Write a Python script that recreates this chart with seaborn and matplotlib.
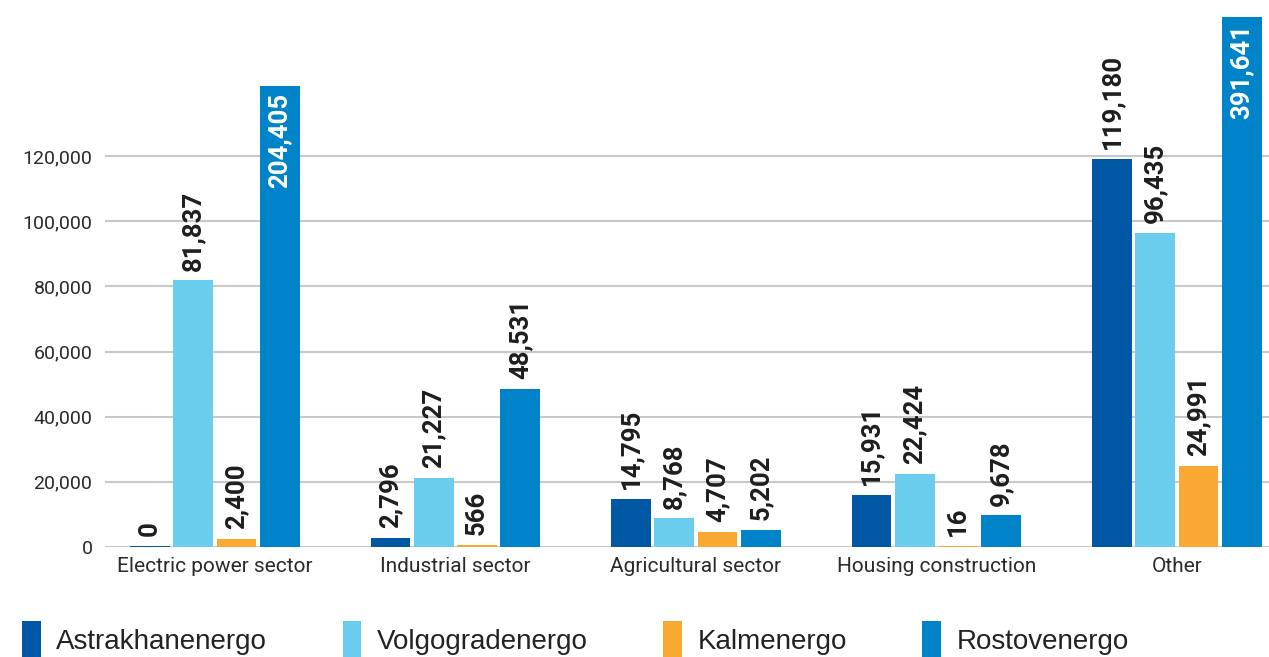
import numpy as np
import pandas as pd
import matplotlib
matplotlib.use("Agg")
import matplotlib.pyplot as plt
import seaborn as sns
from matplotlib.patches import Patch

# ---------------- data ----------------
categories = ["Electric power sector", "Industrial sector", "Agricultural sector",
              "Housing construction", "Other"]
series = ["Astrakhanenergo", "Volgogradenergo", "Kalmenergo", "Rostovenergo"]

astrakhanenergo = [0, 2796, 14795, 15931, 119180]
volgogradenergo = [81837, 21227, 8768, 22424, 96435]
kalmenergo = [2400, 566, 4707, 16, 24991]
rostovenergo = [204405, 48531, 5202, 9678, 391641]

# bars that the original chart draws truncated (axis break), shown height
truncated_shown = {("Rostovenergo", "Electric power sector"): 141500,
                   ("Rostovenergo", "Other"): 162700}
min_visible = 350  # tiny stub drawn for near-zero values

yticks = [0, 20000, 40000, 60000, 80000, 100000, 120000]
colors = ["#0057A3", "#6BCDED", "#F9A832", "#0083C8"]

# ---------------- build table ----------------
vals = {"Astrakhanenergo": astrakhanenergo, "Volgogradenergo": volgogradenergo,
        "Kalmenergo": kalmenergo, "Rostovenergo": rostovenergo}
rows = []
for s in series:
    for c, v in zip(categories, vals[s]):
        shown = truncated_shown.get((s, c), max(v, min_visible))
        rows.append({"category": c, "company": s, "value": v, "shown": shown})
df = pd.DataFrame(rows)

# ---------------- plot ----------------
sns.set_theme(style="white")
plt.rcParams["font.family"] = ["Roboto", "DejaVu Sans"]

fig = plt.figure(figsize=(12.69, 6.57), dpi=100)
ax = fig.add_axes([105 / 1269, (657 - 547) / 657, 1 - 105 / 1269, 547 / 657])

sns.barplot(data=df, x="category", y="shown", hue="company", order=categories,
            hue_order=series, palette=colors, width=0.72, dodge=True, gap=0.08,
            linewidth=0, saturation=1, errorbar=None,
            legend=False, ax=ax)

ax.set_xlim(-0.457, 4.383)
ax.set_ylim(0, 547 * 120000 / 391)
ax.set_yticks(yticks)
ax.set_yticklabels([f"{t:,}" for t in yticks])
ax.yaxis.grid(True, color="#c8c8c8", linewidth=1.5)
ax.set_axisbelow(True)
for sp in ax.spines.values():
    sp.set_visible(False)
ax.tick_params(axis="y", length=0, pad=9, labelsize=14, labelcolor="#2a2a2a")
ax.tick_params(axis="x", length=0, pad=7, labelsize=15, labelcolor="#2a2a2a")
ax.set_xlabel("")
ax.set_ylabel("")

# value labels
for s, cont in zip(series, ax.containers):
    for c, bar, v in zip(categories, cont, vals[s]):
        x = bar.get_x() + bar.get_width() / 2
        h = bar.get_height()
        txt = f"{v:,}"
        if (s, c) in truncated_shown:
            ax.annotate(txt, (x, h), xytext=(0, -5), textcoords="offset points",
                        rotation=90, ha="center", va="top", color="white",
                        fontsize=18.5, fontweight="bold")
        else:
            ax.annotate(txt, (x, h), xytext=(0, 7), textcoords="offset points",
                        rotation=90, ha="center", va="bottom", color="#1e1e1e",
                        fontsize=18.5, fontweight="bold")

# legend
handles = [Patch(facecolor=col, edgecolor="none") for col in colors]
leg = fig.legend(handles, series, loc="upper left", ncol=4,
                 bbox_to_anchor=(22 / 1269, 1 - 621 / 657), frameon=False,
                 prop={"family": "Liberation Sans", "size": 20},
                 handlelength=0.68, handleheight=1.75, handletextpad=0.55,
                 columnspacing=2.72, borderpad=0, borderaxespad=0)
for t in leg.get_texts():
    t.set_color("#222222")

fig.savefig("out.png", dpi=100)
